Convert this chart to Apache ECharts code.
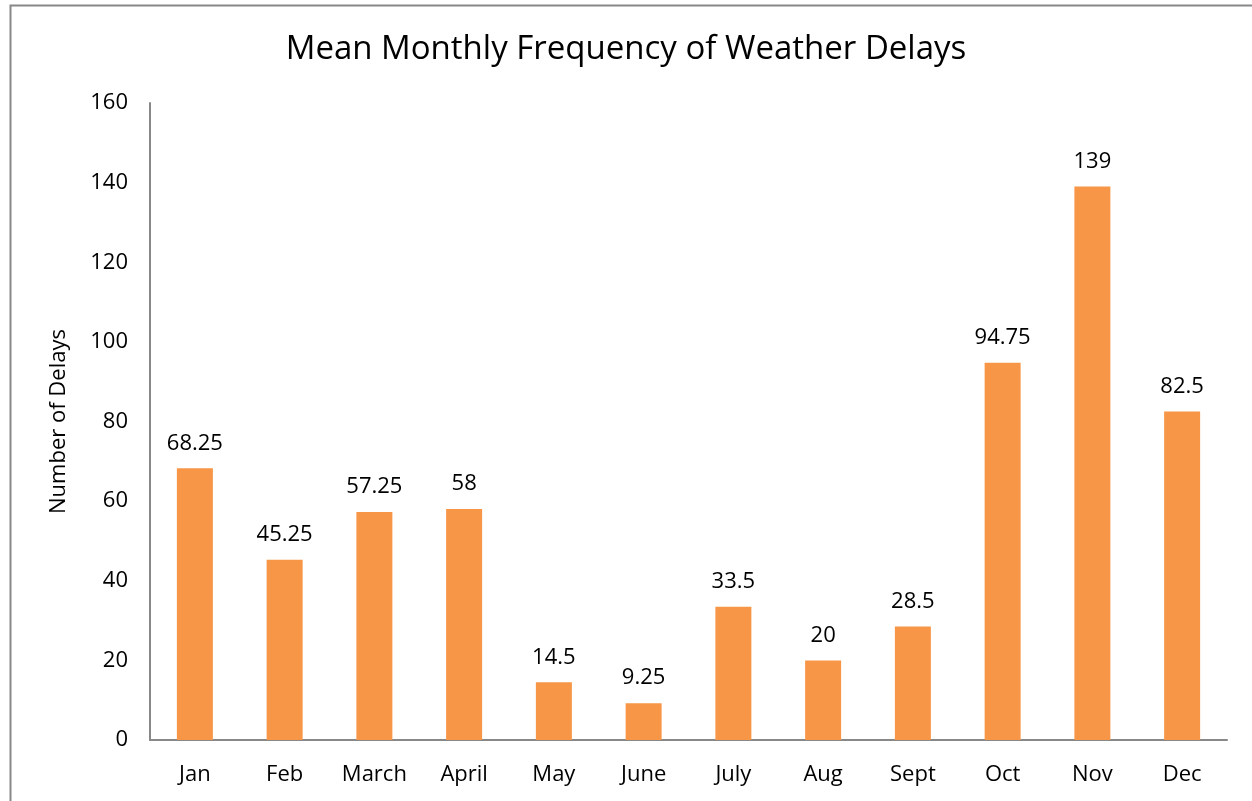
<!DOCTYPE html>
<html>
<head>
    <meta charset="utf-8">
    <script src="https://cdn.jsdelivr.net/npm/echarts@6/dist/echarts.min.js"></script>
    <style>
        body{margin:0;background:#fff;}
        #main{width:1252px;height:801px;}
    </style>
</head>
<body>
<div id="main"></div>
<script type="text/javascript">
// 月份
var months = ['Jan','Feb','March','April','May','June','July','Aug','Sept','Oct','Nov','Dec'];
// 平均延误次数
var delays = [68.25, 45.25, 57.25, 58, 14.5, 9.25, 33.5, 20, 28.5, 94.75, 139, 82.5];

var font = 'Open Sans';
var myChart = echarts.init(document.getElementById('main'));

var option = {
    backgroundColor: '#fff',
    animation: false,
    title: {
        text: 'Mean Monthly Frequency of Weather Delays',
        left: 'center',
        top: 28,
        textStyle: {fontFamily: font, fontSize: 33, fontWeight: 'normal', color: '#000'}
    },
    // 外框
    graphic: [{
        type: 'rect',
        shape: {x: 10.5, y: 5.5, width: 1300, height: 900},
        style: {fill: 'none', stroke: '#888', lineWidth: 2},
        silent: true
    }],
    grid: {left: 150, right: 25, top: 103, bottom: 61},
    xAxis: {
        type: 'category',
        data: months,
        axisLine: {lineStyle: {color: '#888', width: 2}},
        axisTick: {show: false},
        axisLabel: {color: '#000', fontFamily: font, fontSize: 22, margin: 24}
    },
    yAxis: {
        type: 'value',
        min: 0,
        max: 160,
        interval: 20,
        name: 'Number of Delays',
        nameLocation: 'middle',
        nameGap: 80,
        nameTextStyle: {color: '#000', fontFamily: font, fontSize: 22},
        axisLine: {show: true, lineStyle: {color: '#888', width: 2}},
        axisTick: {show: false},
        splitLine: {show: false},
        axisLabel: {color: '#000', fontFamily: font, fontSize: 22, margin: 22}
    },
    series: [{
        type: 'bar',
        data: delays,
        barWidth: 36,
        itemStyle: {color: '#F79646'},
        label: {
            show: true,
            position: 'top',
            distance: 14,
            color: '#000',
            fontFamily: font,
            fontSize: 22
        }
    }]
};

myChart.setOption(option);
</script>
</body>
</html>
